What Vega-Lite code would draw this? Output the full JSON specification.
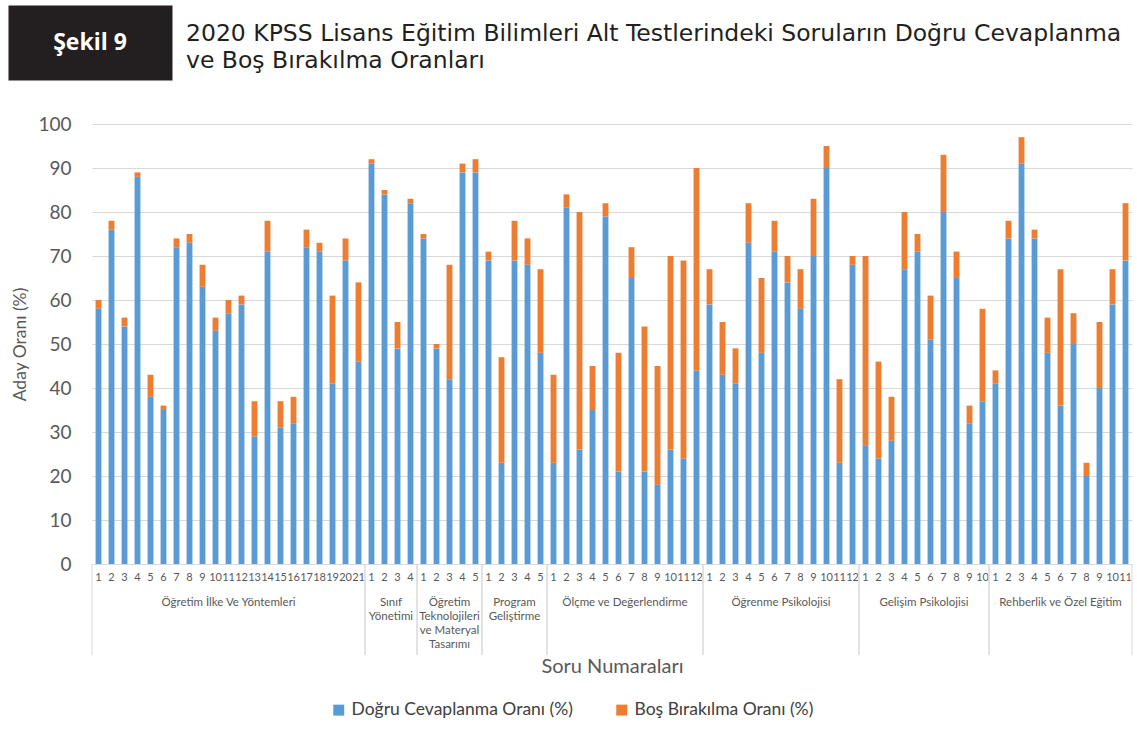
{
  "$schema": "https://vega.github.io/schema/vega-lite/v6.json",
  "padding": {"left": 11, "top": 5, "right": 0, "bottom": 5},
  "background": "white",
  "config": {"font": "Lato", "view": {"stroke": null}, "legend": {"layout": {"bottom": {"anchor": "middle"}}}},
  "spacing": 35,
  "vconcat": [
    {
      "width": 2,
      "height": 75,
      "layer": [
        {
          "data": {"values": [{"t": "Şekil 9"}]},
          "mark": {"type": "text", "color": "white", "fontSize": 23, "fontWeight": "bold", "font": "Open Sans", "dx": -3},
          "encoding": {
            "text": {"field": "t"},
            "y": {"datum": 0.5, "type": "quantitative", "scale": {"domain": [0, 1]}, "axis": {"domain": true, "domainColor": "#231f20", "domainWidth": 164, "domainCap": "butt", "offset": 2, "labels": false, "ticks": false, "grid": false, "title": null, "zindex": 0}}
          }
        },
        {
          "data": {"values": [{"t": "2020 KPSS Lisans Eğitim Bilimleri Alt Testlerindeki Soruların Doğru Cevaplanma|ve Boş Bırakılma Oranları"}]},
          "mark": {"type": "text", "color": "#231f20", "fontSize": 23.5, "font": "DejaVu Sans", "align": "left", "baseline": "middle", "dx": 93, "dy": -9, "lineBreak": "|", "lineHeight": 27},
          "encoding": {
            "text": {"field": "t"},
            "y": {"datum": 0.5, "type": "quantitative", "scale": {"domain": [0, 1]}}
          }
        }
      ]
    },
    {
      "data": {"values": [
        {"g": "Öğretim İlke Ve Yöntemleri", "q": 1, "d": 58, "b": 2},
        {"g": "Öğretim İlke Ve Yöntemleri", "q": 2, "d": 76, "b": 2},
        {"g": "Öğretim İlke Ve Yöntemleri", "q": 3, "d": 54, "b": 2},
        {"g": "Öğretim İlke Ve Yöntemleri", "q": 4, "d": 88, "b": 1},
        {"g": "Öğretim İlke Ve Yöntemleri", "q": 5, "d": 38, "b": 5},
        {"g": "Öğretim İlke Ve Yöntemleri", "q": 6, "d": 35, "b": 1},
        {"g": "Öğretim İlke Ve Yöntemleri", "q": 7, "d": 72, "b": 2},
        {"g": "Öğretim İlke Ve Yöntemleri", "q": 8, "d": 73, "b": 2},
        {"g": "Öğretim İlke Ve Yöntemleri", "q": 9, "d": 63, "b": 5},
        {"g": "Öğretim İlke Ve Yöntemleri", "q": 10, "d": 53, "b": 3},
        {"g": "Öğretim İlke Ve Yöntemleri", "q": 11, "d": 57, "b": 3},
        {"g": "Öğretim İlke Ve Yöntemleri", "q": 12, "d": 59, "b": 2},
        {"g": "Öğretim İlke Ve Yöntemleri", "q": 13, "d": 29, "b": 8},
        {"g": "Öğretim İlke Ve Yöntemleri", "q": 14, "d": 71, "b": 7},
        {"g": "Öğretim İlke Ve Yöntemleri", "q": 15, "d": 31, "b": 6},
        {"g": "Öğretim İlke Ve Yöntemleri", "q": 16, "d": 32, "b": 6},
        {"g": "Öğretim İlke Ve Yöntemleri", "q": 17, "d": 72, "b": 4},
        {"g": "Öğretim İlke Ve Yöntemleri", "q": 18, "d": 71, "b": 2},
        {"g": "Öğretim İlke Ve Yöntemleri", "q": 19, "d": 41, "b": 20},
        {"g": "Öğretim İlke Ve Yöntemleri", "q": 20, "d": 69, "b": 5},
        {"g": "Öğretim İlke Ve Yöntemleri", "q": 21, "d": 46, "b": 18},
        {"g": "Sınıf|Yönetimi", "q": 1, "d": 91, "b": 1},
        {"g": "Sınıf|Yönetimi", "q": 2, "d": 84, "b": 1},
        {"g": "Sınıf|Yönetimi", "q": 3, "d": 49, "b": 6},
        {"g": "Sınıf|Yönetimi", "q": 4, "d": 82, "b": 1},
        {"g": "Öğretim|Teknolojileri|ve Materyal|Tasarımı", "q": 1, "d": 74, "b": 1},
        {"g": "Öğretim|Teknolojileri|ve Materyal|Tasarımı", "q": 2, "d": 49, "b": 1},
        {"g": "Öğretim|Teknolojileri|ve Materyal|Tasarımı", "q": 3, "d": 42, "b": 26},
        {"g": "Öğretim|Teknolojileri|ve Materyal|Tasarımı", "q": 4, "d": 89, "b": 2},
        {"g": "Öğretim|Teknolojileri|ve Materyal|Tasarımı", "q": 5, "d": 89, "b": 3},
        {"g": "Program|Geliştirme", "q": 1, "d": 69, "b": 2},
        {"g": "Program|Geliştirme", "q": 2, "d": 23, "b": 24},
        {"g": "Program|Geliştirme", "q": 3, "d": 69, "b": 9},
        {"g": "Program|Geliştirme", "q": 4, "d": 68, "b": 6},
        {"g": "Program|Geliştirme", "q": 5, "d": 48, "b": 19},
        {"g": "Ölçme ve Değerlendirme", "q": 1, "d": 23, "b": 20},
        {"g": "Ölçme ve Değerlendirme", "q": 2, "d": 81, "b": 3},
        {"g": "Ölçme ve Değerlendirme", "q": 3, "d": 26, "b": 54},
        {"g": "Ölçme ve Değerlendirme", "q": 4, "d": 35, "b": 10},
        {"g": "Ölçme ve Değerlendirme", "q": 5, "d": 79, "b": 3},
        {"g": "Ölçme ve Değerlendirme", "q": 6, "d": 21, "b": 27},
        {"g": "Ölçme ve Değerlendirme", "q": 7, "d": 65, "b": 7},
        {"g": "Ölçme ve Değerlendirme", "q": 8, "d": 21, "b": 33},
        {"g": "Ölçme ve Değerlendirme", "q": 9, "d": 18, "b": 27},
        {"g": "Ölçme ve Değerlendirme", "q": 10, "d": 26, "b": 44},
        {"g": "Ölçme ve Değerlendirme", "q": 11, "d": 24, "b": 45},
        {"g": "Ölçme ve Değerlendirme", "q": 12, "d": 44, "b": 46},
        {"g": "Öğrenme Psikolojisi", "q": 1, "d": 59, "b": 8},
        {"g": "Öğrenme Psikolojisi", "q": 2, "d": 43, "b": 12},
        {"g": "Öğrenme Psikolojisi", "q": 3, "d": 41, "b": 8},
        {"g": "Öğrenme Psikolojisi", "q": 4, "d": 73, "b": 9},
        {"g": "Öğrenme Psikolojisi", "q": 5, "d": 48, "b": 17},
        {"g": "Öğrenme Psikolojisi", "q": 6, "d": 71, "b": 7},
        {"g": "Öğrenme Psikolojisi", "q": 7, "d": 64, "b": 6},
        {"g": "Öğrenme Psikolojisi", "q": 8, "d": 58, "b": 9},
        {"g": "Öğrenme Psikolojisi", "q": 9, "d": 70, "b": 13},
        {"g": "Öğrenme Psikolojisi", "q": 10, "d": 90, "b": 5},
        {"g": "Öğrenme Psikolojisi", "q": 11, "d": 23, "b": 19},
        {"g": "Öğrenme Psikolojisi", "q": 12, "d": 68, "b": 2},
        {"g": "Gelişim Psikolojisi", "q": 1, "d": 27, "b": 43},
        {"g": "Gelişim Psikolojisi", "q": 2, "d": 24, "b": 22},
        {"g": "Gelişim Psikolojisi", "q": 3, "d": 28, "b": 10},
        {"g": "Gelişim Psikolojisi", "q": 4, "d": 67, "b": 13},
        {"g": "Gelişim Psikolojisi", "q": 5, "d": 71, "b": 4},
        {"g": "Gelişim Psikolojisi", "q": 6, "d": 51, "b": 10},
        {"g": "Gelişim Psikolojisi", "q": 7, "d": 80, "b": 13},
        {"g": "Gelişim Psikolojisi", "q": 8, "d": 65, "b": 6},
        {"g": "Gelişim Psikolojisi", "q": 9, "d": 32, "b": 4},
        {"g": "Gelişim Psikolojisi", "q": 10, "d": 37, "b": 21},
        {"g": "Rehberlik ve Özel Eğitim", "q": 1, "d": 41, "b": 3},
        {"g": "Rehberlik ve Özel Eğitim", "q": 2, "d": 74, "b": 4},
        {"g": "Rehberlik ve Özel Eğitim", "q": 3, "d": 91, "b": 6},
        {"g": "Rehberlik ve Özel Eğitim", "q": 4, "d": 74, "b": 2},
        {"g": "Rehberlik ve Özel Eğitim", "q": 5, "d": 48, "b": 8},
        {"g": "Rehberlik ve Özel Eğitim", "q": 6, "d": 36, "b": 31},
        {"g": "Rehberlik ve Özel Eğitim", "q": 7, "d": 50, "b": 7},
        {"g": "Rehberlik ve Özel Eğitim", "q": 8, "d": 20, "b": 3},
        {"g": "Rehberlik ve Özel Eğitim", "q": 9, "d": 40, "b": 15},
        {"g": "Rehberlik ve Özel Eğitim", "q": 10, "d": 59, "b": 8},
        {"g": "Rehberlik ve Özel Eğitim", "q": 11, "d": 69, "b": 13}
      ]},
      "transform": [
        {"calculate": "indexof(['Öğretim İlke Ve Yöntemleri', 'Sınıf|Yönetimi', 'Öğretim|Teknolojileri|ve Materyal|Tasarımı', 'Program|Geliştirme', 'Ölçme ve Değerlendirme', 'Öğrenme Psikolojisi', 'Gelişim Psikolojisi', 'Rehberlik ve Özel Eğitim'], datum.g) * 100 + datum.q", "as": "k"},
        {"joinaggregate": [{"op": "count", "as": "n"}], "groupby": ["g"]}
      ],
      "width": {"step": 13},
      "height": 440,
      "layer": [
        {
          "transform": [{"fold": ["d", "b"], "as": ["tur", "oran"]}],
          "mark": {"type": "bar"},
          "encoding": {
            "x": {
              "field": "k", "type": "ordinal",
              "scale": {"paddingInner": 0.55, "paddingOuter": 0.275},
              "axis": {"title": "Soru Numaraları", "labelExpr": "datum.value % 100", "labelAngle": 0, "labelFontSize": 11, "labelColor": "#595959", "ticks": false, "domainColor": "#d9d9d9", "labelPadding": 7, "labelOverlap": false, "labelBound": false, "grid": false, "titleFontSize": 20, "titleFontWeight": "normal", "titleColor": "#595959", "titlePadding": 74}
            },
            "y": {
              "field": "oran", "type": "quantitative", "stack": "zero",
              "scale": {"domain": [0, 100]},
              "axis": {"title": "Aday Oranı (%)", "values": [0, 10, 20, 30, 40, 50, 60, 70, 80, 90, 100], "grid": true, "gridColor": "#d9d9d9", "domain": false, "ticks": false, "labelFontSize": 19, "labelColor": "#595959", "labelPadding": 21, "titleFontSize": 17.5, "titleFontWeight": "normal", "titleColor": "#595959", "titlePadding": 8}
            },
            "color": {
              "field": "tur", "type": "nominal",
              "scale": {"domain": ["d", "b"], "range": ["#5b9bd5", "#ed7d31"]},
              "legend": {"title": null, "orient": "bottom", "direction": "horizontal", "labelExpr": "datum.value == 'd' ? 'Doğru Cevaplanma Oranı (%)' : 'Boş Bırakılma Oranı (%)'", "labelFontSize": 17.5, "labelColor": "#404040", "symbolType": "square", "symbolSize": 120, "symbolStrokeWidth": 0, "columnPadding": 40, "labelLimit": 400, "offset": 25}
            },
            "order": {"field": "tur", "sort": "descending"}
          }
        },
        {
          "transform": [{"filter": "datum.n % 2 == 1 && datum.q == (datum.n + 1) / 2"}],
          "mark": {"type": "text", "baseline": "top", "align": "center", "lineBreak": "|", "lineHeight": 14, "fontSize": 11.5, "color": "#595959"},
          "encoding": {
            "x": {"field": "k", "type": "ordinal", "bandPosition": 0.5},
            "y": {"datum": -7.6, "scale": {"domain": [0, 100]}, "title": "Aday Oranı (%)"},
            "text": {"field": "g"}
          }
        },
        {
          "transform": [{"filter": "datum.n % 2 == 0 && datum.q == datum.n / 2"}],
          "mark": {"type": "text", "baseline": "top", "align": "center", "lineBreak": "|", "lineHeight": 14, "fontSize": 11.5, "color": "#595959"},
          "encoding": {
            "x": {"field": "k", "type": "ordinal", "bandPosition": 1.611},
            "y": {"datum": -7.6, "scale": {"domain": [0, 100]}, "title": "Aday Oranı (%)"},
            "text": {"field": "g"}
          }
        },
        {
          "transform": [{"filter": "datum.q == 1"}],
          "mark": {"type": "rule", "color": "#d9d9d9", "strokeWidth": 1},
          "encoding": {
            "x": {"field": "k", "type": "ordinal", "bandPosition": -0.611},
            "y": {"datum": 0, "scale": {"domain": [0, 100]}, "title": "Aday Oranı (%)"},
            "y2": {"datum": -20.7}
          }
        },
        {
          "transform": [{"filter": "datum.q == datum.n"}],
          "mark": {"type": "rule", "color": "#d9d9d9", "strokeWidth": 1},
          "encoding": {
            "x": {"field": "k", "type": "ordinal", "bandPosition": 1.611},
            "y": {"datum": 0, "scale": {"domain": [0, 100]}, "title": "Aday Oranı (%)"},
            "y2": {"datum": -20.7}
          }
        }
      ]
    }
  ]
}
